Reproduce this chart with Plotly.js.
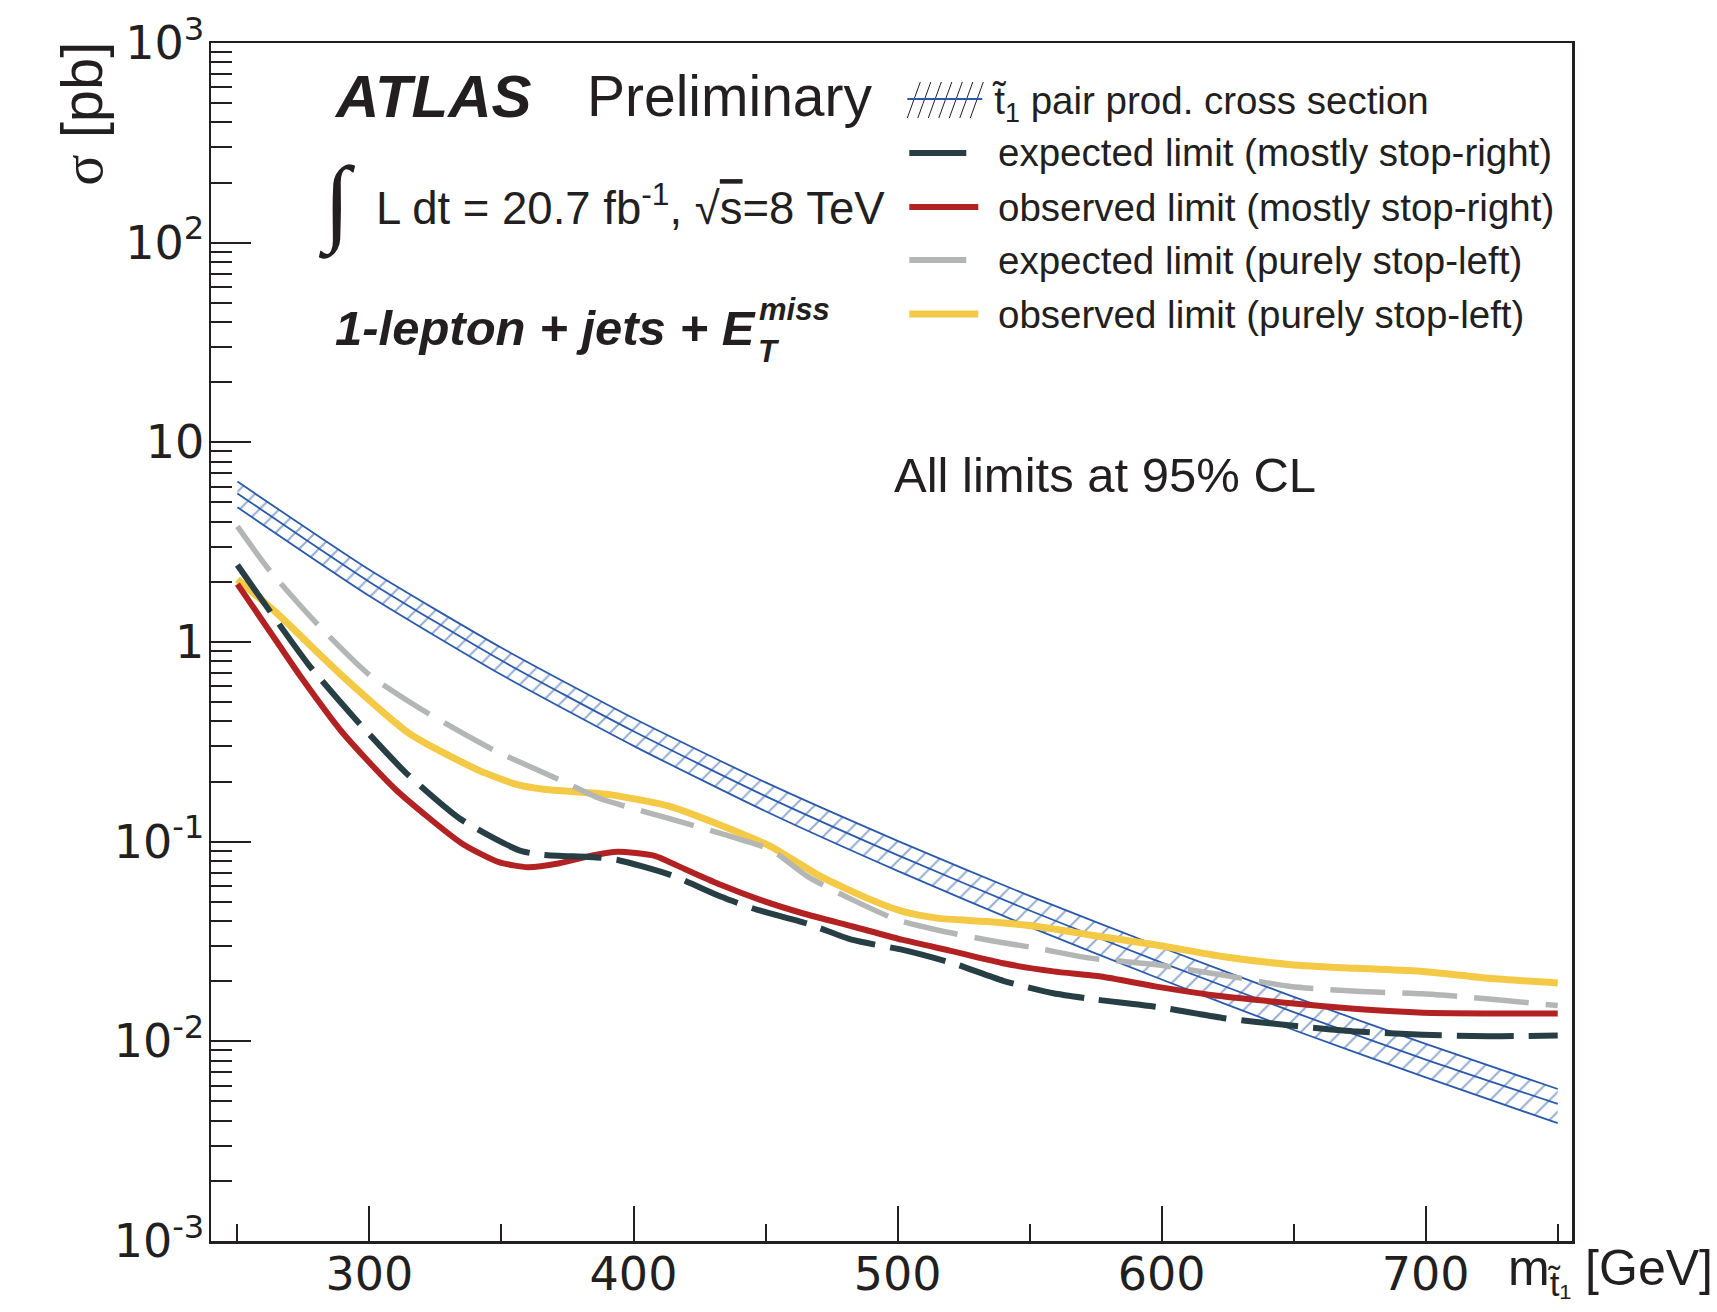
<!DOCTYPE html>
<html><head><meta charset="utf-8">
<script src="https://cdn.plot.ly/plotly-3.0.1.min.js"></script>
<style>html,body{margin:0;padding:0;background:#fff;overflow:hidden}#chart{width:1717px;height:1312px}</style>
</head><body><div id="chart"></div>
<script>
// ---- data ----
const xsecMass    = [250, 300, 350, 400, 450, 500, 550, 600, 650, 700, 750];
const xsecCentral = [5.55, 2.00, 0.807, 0.357, 0.169, 0.0856, 0.0452, 0.0248, 0.0140, 0.0081, 0.00486];
const xsecUp      = [6.36, 2.30, 0.935, 0.415, 0.198, 0.101, 0.0535, 0.0295, 0.0167, 0.0097, 0.00577];
const xsecDown    = [4.73, 1.70, 0.685, 0.302, 0.142, 0.0714, 0.0374, 0.0204, 0.0114, 0.0066, 0.00389];

const obsRightMass = [250, 265, 274, 290, 310, 335, 349, 360, 372, 384, 394, 408, 420, 433, 448, 464, 483, 502, 521, 540, 559, 577, 598, 623, 649, 674, 699, 724, 750];
const obsRight     = [1.95, 1.00, 0.67, 0.349, 0.182, 0.098, 0.079, 0.0745, 0.078, 0.085, 0.089, 0.0849, 0.0723, 0.0608, 0.0511, 0.0438, 0.0376, 0.0322, 0.0282, 0.0246, 0.0224, 0.0211, 0.0188, 0.0168, 0.0155, 0.0145, 0.0139, 0.0138, 0.0138];

const expRightMass = [250, 277, 295, 314, 334, 351, 358, 366, 386, 394, 414, 433, 445, 466, 483, 502, 521, 540, 559, 575, 598, 623, 649, 674, 699, 724, 750];
const expRight     = [2.43, 0.769, 0.407, 0.220, 0.131, 0.098, 0.0893, 0.0859, 0.0834, 0.081, 0.0682, 0.0531, 0.0464, 0.0388, 0.0322, 0.0287, 0.0246, 0.0201, 0.0174, 0.0162, 0.0149, 0.0131, 0.0120, 0.0112, 0.0108, 0.0106, 0.0107];

const obsLeftMass = [250, 265, 290, 315, 341, 356, 366, 378, 391, 414, 433, 452, 471, 490, 502, 515, 534, 553, 573, 598, 623, 649, 674, 699, 724, 750];
const obsLeft     = [2.06, 1.39, 0.671, 0.349, 0.229, 0.193, 0.183, 0.178, 0.172, 0.150, 0.121, 0.0945, 0.0668, 0.0511, 0.0447, 0.0414, 0.0398, 0.0376, 0.0341, 0.0304, 0.0266, 0.0242, 0.0232, 0.0224, 0.0207, 0.0196];

const expLeftMass = [250, 262, 280, 300, 322, 347, 372, 387, 395, 414, 433, 452, 466, 483, 500, 515, 534, 553, 573, 598, 623, 649, 674, 699, 724, 750];
const expLeft     = [3.79, 2.30, 1.24, 0.684, 0.441, 0.288, 0.204, 0.165, 0.153, 0.130, 0.110, 0.091, 0.0668, 0.0511, 0.0405, 0.0361, 0.0322, 0.0292, 0.0261, 0.0242, 0.0215, 0.0188, 0.0178, 0.0173, 0.0163, 0.0151];

const xTickVals = [300, 400, 500, 600, 700];
const xTickText = ['300', '400', '500', '600', '700'];
const xMinorVals = [250, 350, 450, 550, 650, 750];
const yTickVals = [0.001, 0.01, 0.1, 1, 10, 100, 1000];
const yTickText = ['10<sup>-3</sup>', '10<sup>-2</sup>', '10<sup>-1</sup>', '1', '10', '10<sup>2</sup>', '10<sup>3</sup>'];
const legendLabels = ['t̃<sub>1</sub> pair prod. cross section', 'expected limit (mostly stop-right)', 'observed limit (mostly stop-right)', 'expected limit (purely stop-left)', 'observed limit (purely stop-left)'];

// ---- styling ----
const BLUE = '#2b5aaa', RED = '#b22222', DARK = '#263e44', GRAY = '#b4b6b6', YELLOW = '#f3c945', INK = '#231f20';
const FONT = '"Liberation Sans", Arial, Helvetica, sans-serif';
const TICKFONT = '"DejaVu Sans", "Liberation Sans", sans-serif';

const yMinorVals = [];
for (let e = -3; e < 3; e++) for (let k = 2; k <= 9; k++) yMinorVals.push(k * Math.pow(10, e));

const traces = [
  {x: xsecMass, y: xsecUp, mode: 'lines', line: {color: BLUE, width: 1.8, shape: 'spline', smoothing: 0.6}, hoverinfo: 'skip'},
  {x: xsecMass, y: xsecDown, mode: 'lines', line: {color: BLUE, width: 1.8, shape: 'spline', smoothing: 0.6}, hoverinfo: 'skip',
   fill: 'tonexty', fillcolor: 'rgba(0,0,0,0)',
   fillpattern: {shape: '/', fgcolor: BLUE, bgcolor: 'rgba(0,0,0,0)', size: 14, solidity: 0.14, fillmode: 'overlay'}},
  {x: xsecMass, y: xsecCentral, mode: 'lines', line: {color: BLUE, width: 1.8, shape: 'spline', smoothing: 0.6}},
  {x: obsLeftMass, y: obsLeft, mode: 'lines', line: {color: YELLOW, width: 7, shape: 'spline', smoothing: 0.6}},
  {x: expLeftMass, y: expLeft, mode: 'lines', line: {color: GRAY, width: 5.5, dash: '55px,17px', shape: 'spline', smoothing: 0.6}},
  {x: obsRightMass, y: obsRight, mode: 'lines', line: {color: RED, width: 6, shape: 'spline', smoothing: 0.6}},
  {x: expRightMass, y: expRight, mode: 'lines', line: {color: DARK, width: 6, dash: '57px,15px', shape: 'spline', smoothing: 0.6}}
];

// paper-coordinate helpers (plot area: x 211..1572, y 43..1241 in pixels)
const PX = x => (x - 210.7) / 1361;
const PY = y => (1241 - y) / 1198;

const shapes = [];
const annotations = [];

// legend
const rowY = [103, 153, 207, 260, 314];
const legStyles = [null, {c: DARK, w: 6, x1: 966}, {c: RED, w: 6, x1: 978}, {c: GRAY, w: 6, x1: 966}, {c: YELLOW, w: 7, x1: 978}];
// hatch sample
for (let k = 0; k < 7; k++) {
  const x0 = 907 + k * 10.5;
  shapes.push({type: 'line', xref: 'paper', yref: 'paper', x0: PX(x0), y0: PY(118), x1: PX(x0 + 13), y1: PY(82), line: {color: INK, width: 1}});
}
shapes.push({type: 'line', xref: 'paper', yref: 'paper', x0: PX(907), y0: PY(99), x1: PX(982), y1: PY(99), line: {color: BLUE, width: 2}});
for (let i = 1; i < 5; i++) {
  const s = legStyles[i];
  shapes.push({type: 'line', xref: 'paper', yref: 'paper', x0: PX(909), y0: PY(rowY[i]), x1: PX(s.x1), y1: PY(rowY[i]), line: {color: s.c, width: s.w}});
}
legendLabels.forEach((t, i) => {
  annotations.push({xref: 'paper', yref: 'paper', x: PX(i === 0 ? 990 : 996), y: PY(rowY[i]), xanchor: 'left', yanchor: 'middle', showarrow: false, text: t, font: {size: 38.5, family: FONT, color: INK}});
});

// labels
annotations.push({xref: 'paper', yref: 'paper', x: PX(332), y: PY(96), xanchor: 'left', yanchor: 'middle', showarrow: false, text: '<b><i>ATLAS</i></b>', font: {size: 60, family: FONT, color: INK}});
annotations.push({xref: 'paper', yref: 'paper', x: PX(585), y: PY(96), xanchor: 'left', yanchor: 'middle', showarrow: false, text: 'Preliminary', font: {size: 57, family: FONT, color: INK}});
annotations.push({xref: 'paper', yref: 'paper', x: PX(337), y: PY(203), xanchor: 'center', yanchor: 'middle', showarrow: false, text: '∫', font: {size: 96, family: '"Liberation Serif", "DejaVu Serif", serif', color: INK}});
annotations.push({xref: 'paper', yref: 'paper', x: PX(374), y: PY(205), xanchor: 'left', yanchor: 'middle', showarrow: false, text: 'L dt = 20.7 fb<sup>-1</sup>, √<span style="text-decoration:overline">s</span>=8 TeV', font: {size: 45.5, family: FONT, color: INK}});
annotations.push({xref: 'paper', yref: 'paper', x: PX(333), y: PY(328), xanchor: 'left', yanchor: 'middle', showarrow: false, text: '<b><i>1-lepton + jets + E</i></b>', font: {size: 49, family: FONT, color: INK}});
annotations.push({xref: 'paper', yref: 'paper', x: PX(757), y: PY(309), xanchor: 'left', yanchor: 'middle', showarrow: false, text: '<b><i>miss</i></b>', font: {size: 31, family: FONT, color: INK}});
annotations.push({xref: 'paper', yref: 'paper', x: PX(756), y: PY(352), xanchor: 'left', yanchor: 'middle', showarrow: false, text: '<b><i>T</i></b>', font: {size: 31, family: FONT, color: INK}});
annotations.push({xref: 'paper', yref: 'paper', x: PX(892), y: PY(475), xanchor: 'left', yanchor: 'middle', showarrow: false, text: 'All limits at 95% CL', font: {size: 49, family: FONT, color: INK}});
// axis titles
annotations.push({xref: 'paper', yref: 'paper', x: PX(82), y: 1.003, xanchor: 'center', yanchor: 'top', textangle: -90, showarrow: false,
  text: '<span style="font-family:Liberation Serif">σ</span> [pb]', font: {size: 58, family: FONT, color: INK}});
annotations.push({xref: 'paper', yref: 'paper', x: PX(1506), y: PY(1272), xanchor: 'left', yanchor: 'middle', showarrow: false,
  text: 'm<sub>t̃₁</sub> [GeV]', font: {size: 50, family: FONT, color: INK}});

const layout = {
  width: 1717, height: 1312,
  margin: {l: 211, r: 145, t: 43, b: 71, pad: 0},
  paper_bgcolor: '#fff', plot_bgcolor: '#fff',
  font: {family: FONT, color: INK},
  showlegend: false,
  xaxis: {range: [240, 755.4], tickmode: 'array', tickvals: xTickVals, ticktext: xTickText,
    ticks: 'inside', ticklen: 35, tickwidth: 2, tickcolor: INK,
    showline: true, linecolor: INK, linewidth: 2.5, mirror: true, showgrid: false, zeroline: false,
    tickfont: {size: 46, family: TICKFONT, color: INK}, ticklabelstandoff: -9,
    minor: {tickmode: 'array', tickvals: xMinorVals, ticks: 'inside', ticklen: 17, tickwidth: 2, tickcolor: INK, showgrid: false}},
  yaxis: {type: 'log', range: [-3, 3], tickmode: 'array', tickvals: yTickVals, ticktext: yTickText,
    ticks: 'inside', ticklen: 40, tickwidth: 2, tickcolor: INK,
    showline: true, linecolor: INK, linewidth: 2.5, mirror: true, showgrid: false, zeroline: false,
    tickfont: {size: 46, family: TICKFONT, color: INK}, ticklabelstandoff: -5,
    minor: {tickmode: 'array', tickvals: yMinorVals, ticks: 'inside', ticklen: 21, tickwidth: 2, tickcolor: INK, showgrid: false}},
  shapes: shapes,
  annotations: annotations
};

Plotly.newPlot('chart', traces, layout, {staticPlot: true, displayModeBar: false});
</script></body></html>
